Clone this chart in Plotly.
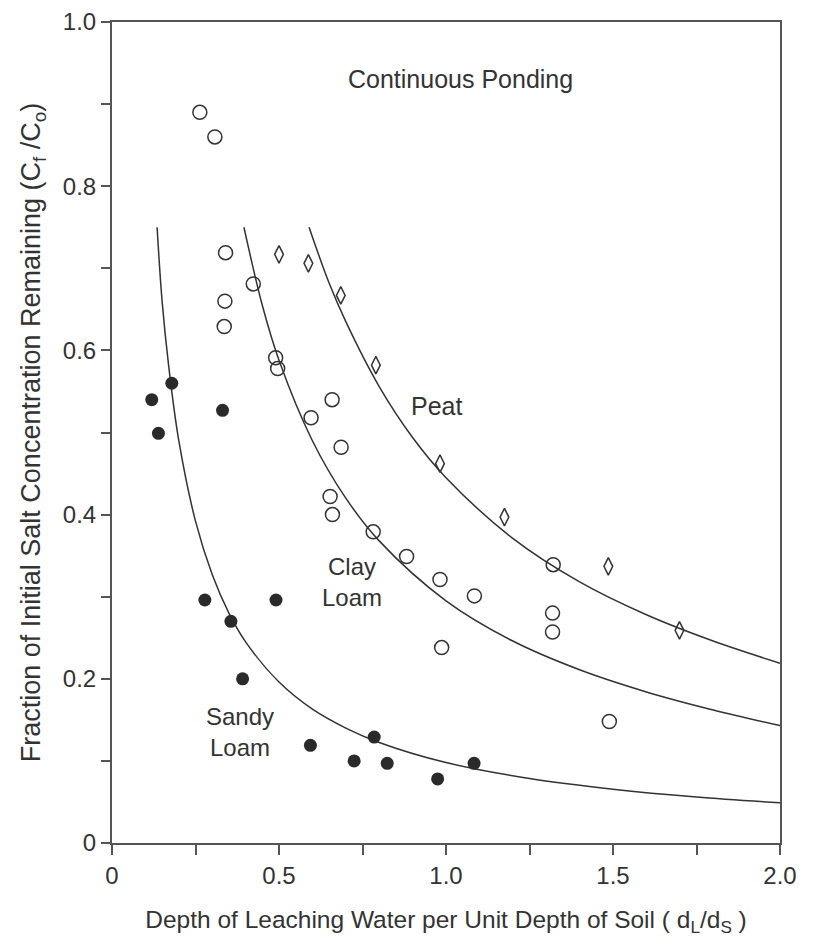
import plotly.graph_objects as go

# ---- data ----
sandy_x = [0.119, 0.139, 0.179, 0.331, 0.278, 0.356, 0.391, 0.491, 0.594, 0.725, 0.785, 0.824, 0.975, 1.084]
sandy_y = [0.540, 0.499, 0.560, 0.527, 0.296, 0.270, 0.200, 0.296, 0.119, 0.100, 0.129, 0.097, 0.078, 0.097]

clay_x = [0.263, 0.308, 0.340, 0.338, 0.336, 0.423, 0.490, 0.496, 0.596, 0.659, 0.686, 0.653, 0.660,
          0.782, 0.882, 0.982, 1.085, 0.987, 1.321, 1.319, 1.319, 1.489]
clay_y = [0.890, 0.860, 0.719, 0.660, 0.629, 0.681, 0.591, 0.578, 0.518, 0.540, 0.482, 0.422, 0.400,
          0.379, 0.349, 0.321, 0.301, 0.238, 0.339, 0.280, 0.257, 0.148]

peat_x = [0.500, 0.588, 0.685, 0.790, 0.982, 1.175, 1.486, 1.699]
peat_y = [0.717, 0.706, 0.667, 0.582, 0.462, 0.397, 0.337, 0.259]

# fitted curves
sandy_curve_x = [0.135, 0.15, 0.17, 0.2, 0.25, 0.3, 0.35, 0.4, 0.5, 0.6, 0.7, 0.8, 1.0, 1.25, 1.5, 1.75, 2.0]
sandy_curve_y = [0.75, 0.66, 0.58, 0.49, 0.392, 0.327, 0.28, 0.245, 0.196, 0.163, 0.14, 0.1225, 0.098, 0.0785, 0.0655, 0.056, 0.049]

clay_curve_x = [0.395, 0.45, 0.5, 0.6, 0.7, 0.8, 1.0, 1.2, 1.4, 1.6, 1.8, 2.0]
clay_curve_y = [0.75, 0.655, 0.588, 0.49, 0.42, 0.368, 0.295, 0.246, 0.211, 0.184, 0.162, 0.143]

peat_curve_x = [0.59, 0.65, 0.7, 0.8, 0.9, 1.0, 1.2, 1.4, 1.6, 1.8, 2.0]
peat_curve_y = [0.75, 0.682, 0.635, 0.556, 0.494, 0.445, 0.371, 0.318, 0.278, 0.246, 0.219]

x_ticks = [0, 0.5, 1.0, 1.5, 2.0]
x_ticktext = ["0", "0.5", "1.0", "1.5", "2.0"]
y_ticks = [0, 0.2, 0.4, 0.6, 0.8, 1.0]
y_ticktext = ["0", "0.2", "0.4", "0.6", "0.8", "1.0"]

INK = "#333333"
AX = "#555555"
FONT = "Liberation Sans, Arial, sans-serif"

fig = go.Figure()

for cx, cy in [(sandy_curve_x, sandy_curve_y), (clay_curve_x, clay_curve_y), (peat_curve_x, peat_curve_y)]:
    fig.add_trace(go.Scatter(x=cx, y=cy, mode="lines", line=dict(color=INK, width=1.5, shape="spline"),
                             hoverinfo="skip", showlegend=False))

fig.add_trace(go.Scatter(x=sandy_x, y=sandy_y, mode="markers", name="Sandy Loam",
                         marker=dict(symbol="circle", size=13, color="#2a2a2a", line=dict(width=0)),
                         showlegend=False))
fig.add_trace(go.Scatter(x=clay_x, y=clay_y, mode="markers", name="Clay Loam",
                         marker=dict(symbol="circle-open", size=14, color=INK, line=dict(width=1.5, color=INK)),
                         showlegend=False))
fig.add_trace(go.Scatter(x=peat_x, y=peat_y, mode="markers", name="Peat",
                         marker=dict(symbol="diamond-tall-open", size=12.5, color=INK, line=dict(width=1.5, color=INK)),
                         showlegend=False))

labels = [
    ("Continuous Ponding", 1.043, 0.931, 25),
    ("Peat", 0.973, 0.532, 25),
    ("Clay<br>Loam", 0.72, 0.3185, 24),
    ("Sandy<br>Loam", 0.383, 0.135, 24),
]
for t, lx, ly, fs in labels:
    fig.add_annotation(x=lx, y=ly, text=t, showarrow=False, xanchor="center", yanchor="middle",
                       align="center", font=dict(family=FONT, size=fs, color=INK))

fig.update_xaxes(range=[0, 2], tickvals=x_ticks, ticktext=x_ticktext,
                 ticks="outside", ticklen=10, tickwidth=1.5, tickcolor=AX,
                 minor=dict(ticks="outside", dtick=0.25, tick0=0, ticklen=10, tickwidth=1.5, tickcolor=AX),
                 showline=True, linewidth=2, linecolor=AX, mirror=True,
                 showgrid=False, zeroline=False,
                 tickfont=dict(family=FONT, size=24, color=INK),
                 title=dict(text="Depth of Leaching Water per Unit Depth of Soil ( d<sub>L</sub>/d<sub>S</sub> )",
                            font=dict(family=FONT, size=24.5, color=INK), standoff=24))
fig.update_yaxes(range=[0, 1], tickvals=y_ticks, ticktext=y_ticktext,
                 ticks="outside", ticklen=9, tickwidth=1.5, tickcolor=AX,
                 minor=dict(ticks="outside", dtick=0.1, tick0=0, ticklen=9, tickwidth=1.5, tickcolor=AX),
                 showline=True, linewidth=2, linecolor=AX, mirror=True,
                 showgrid=False, zeroline=False,
                 tickfont=dict(family=FONT, size=24, color=INK),
                 title=dict(text="Fraction of Initial Salt Concentration Remaining (C<sub>f</sub> /C<sub>o</sub>)",
                            font=dict(family=FONT, size=27, color=INK), standoff=14))

# page body has an 8px margin; plot area placed so it lands at x 112-780, y 22-843 in the window
fig.update_layout(width=809, height=929, margin=dict(l=104, r=37, t=14, b=94, autoexpand=False),
                  paper_bgcolor="white", plot_bgcolor="white", showlegend=False)

fig.write_html("out.html")
